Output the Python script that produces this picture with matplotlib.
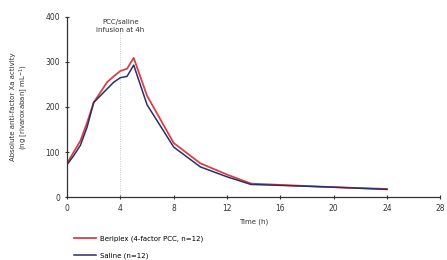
import matplotlib
matplotlib.use("Agg")
import matplotlib.pyplot as plt

# anti-FXa activity over time
time_h = [0, 0.5, 1, 1.5, 2, 3, 3.5, 4, 4.5, 5, 6, 8, 10, 12, 13.8, 16, 20, 24]
beriplex = [75, 100, 125, 165, 210, 255, 268, 280, 285, 309, 225, 120, 75, 50, 30, 27, 22, 18]
saline = [72, 92, 115, 155, 210, 240, 255, 265, 268, 293, 205, 111, 67, 45, 28, 26, 22, 17]

x_ticks = [0, 4, 8, 12, 16, 20, 24, 28]
y_ticks = [0, 100, 200, 300, 400]

red = "#d9404a"
navy = "#28306a"
fs = 5

fig = plt.figure(figsize=(4.47, 2.60), dpi=100)
ax = fig.add_axes([0.150, 0.242, 0.835, 0.693])

ax.axvline(4, color="#bbbbbb", lw=0.6, ls=":", ymax=0.93)
ax.plot(time_h, beriplex, color=red, lw=1.3, label="Beriplex (4-factor PCC, n=12)")
ax.plot(time_h, saline, color=navy, lw=1.1, label="Saline (n=12)")

ax.text(4, 395, "PCC/saline\ninfusion at 4h", ha="center", va="top", fontsize=fs,
        color="#333333", linespacing=1.4)

ax.set_xlim(0, 28)
ax.set_ylim(0, 400)
ax.set_xticks(x_ticks)
ax.set_yticks(y_ticks)
ax.tick_params(labelsize=fs + 0.5, length=3, width=0.8, direction="inout", colors="#333333")
for s in ["top", "right"]:
    ax.spines[s].set_visible(False)
for s in ["left", "bottom"]:
    ax.spines[s].set_linewidth(0.9)
    ax.spines[s].set_color("#333333")

ax.set_xlabel("Time (h)", fontsize=fs, color="#333333", labelpad=4)
ax.set_ylabel("Absolute anti-factor Xa activity\n(ng [rivaroxaban] mL$^{-1}$)", fontsize=fs,
              color="#333333", labelpad=11)

fig.legend(loc="upper left", bbox_to_anchor=(0.165, 0.093), frameon=False, fontsize=fs,
           handlelength=3.2, handletextpad=0.6, labelspacing=1.4, borderaxespad=0,
           borderpad=0)

fig.savefig("out.png", dpi=100)
